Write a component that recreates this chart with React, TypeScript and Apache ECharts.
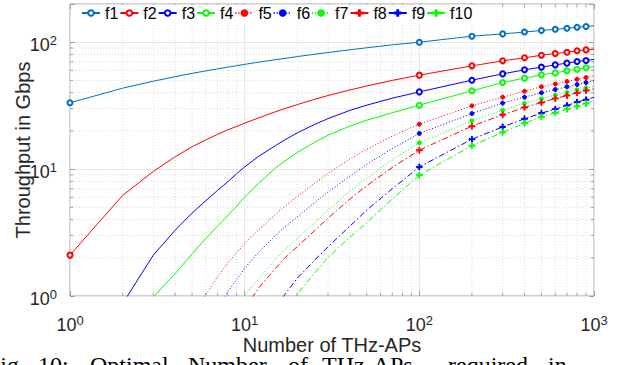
import React, { useEffect, useRef } from 'react';
import * as echarts from 'echarts';

// Sample positions (Number of THz-APs)
const X = [1, 2, 3, 4, 5, 6, 7, 8, 9, 10, 11, 12, 15, 17, 20, 25, 30, 40, 50, 70, 100, 200, 300, 400, 500, 600, 700, 800, 900, 1000];
// Points that carry a marker
const MARKER_X = [1, 100, 200, 300, 400, 500, 600, 700, 800, 900];

// Throughput in Gbps
const F1 = [33.3, 43.4, 49.3, 53.5, 56.8, 59.4, 61.7, 63.6, 65.3, 66.9, 68.3, 69.6, 72.8, 74.6, 77.0, 80.3, 82.9, 87.1, 90.4, 95.3, 100, 111.5, 116.3, 120.2, 123.6, 126.3, 128.8, 131.0, 133.0, 134.8];
const F2 = [2.1, 6.2, 9.6, 12.5, 15.0, 17.0, 18.8, 20.4, 21.7, 23.0, 24.2, 25.3, 28.3, 30.0, 32.2, 35.4, 38.0, 42.0, 45.2, 50.0, 55.0, 65.1, 71.3, 75.3, 79.0, 81.4, 83.4, 85.6, 87.0, 88.1];
const F3 = [null, 0.87, 2.1, 3.3, 4.5, 5.65, 6.8, 7.95, 9.2, 10.4, 11.5, 12.6, 15.3, 17.0, 19.3, 22.4, 25.0, 29.0, 31.9, 36.2, 40.6, 50.2, 56.3, 60.6, 63.6, 66.3, 68.4, 70.5, 71.8, 73.1];
const F4 = [null, null, 0.98, 1.5, 2.15, 2.85, 3.55, 4.3, 5.1, 6.0, 6.85, 7.7, 10.2, 11.6, 13.5, 16.2, 18.5, 21.8, 24.3, 27.8, 31.9, 41.4, 48.1, 52.1, 55.3, 57.3, 59.5, 61.3, 62.8, 64.3];
const F5 = [null, null, null, null, 0.6, 1.03, 1.42, 1.82, 2.2, 2.58, 2.95, 3.3, 4.4, 5.1, 6.05, 7.7, 9.25, 12.0, 14.3, 18.2, 22.6, 31.5, 36.9, 41.1, 44.5, 46.9, 49.0, 51.1, 52.7, 54.3];
const F6 = [null, null, null, null, null, null, 0.78, 1.08, 1.35, 1.65, 1.93, 2.2, 3.0, 3.5, 4.2, 5.4, 6.6, 8.8, 10.9, 14.5, 19.1, 27.4, 33.1, 36.9, 39.9, 42.4, 44.5, 46.4, 48.1, 49.6];
const F7 = [null, null, null, null, null, null, null, null, 0.82, 1.0, 1.18, 1.36, 1.95, 2.33, 2.85, 3.75, 4.75, 6.7, 8.45, 11.9, 16.1, 24.0, 29.2, 32.9, 35.8, 38.3, 40.2, 42.2, 43.7, 45.0];
const F8 = [null, null, null, null, null, null, null, null, null, 0.8, 0.965, 1.15, 1.65, 2.0, 2.45, 3.25, 4.1, 5.8, 7.4, 10.3, 14.1, 21.8, 26.8, 30.6, 33.5, 36.0, 38.0, 39.9, 41.6, 42.9];
const F9 = [null, null, null, null, null, null, null, null, null, null, null, null, 0.8, 1.03, 1.38, 1.9, 2.44, 3.55, 4.75, 7.0, 10.4, 17.2, 21.5, 24.9, 27.6, 29.7, 31.7, 33.7, 35.2, 36.9];
const F10 = [null, null, null, null, null, null, null, null, null, null, null, null, null, 0.74, 1.04, 1.5, 2.02, 2.9, 3.8, 5.8, 8.97, 15.3, 19.5, 23.0, 25.8, 27.8, 29.7, 31.3, 32.9, 34.5];

const NAMES = ['f1', 'f2', 'f3', 'f4', 'f5', 'f6', 'f7', 'f8', 'f9', 'f10'];
const VALUES = [F1, F2, F3, F4, F5, F6, F7, F8, F9, F10];

// Minor tick / grid positions
const X_MINOR = [2, 3, 4, 5, 6, 7, 8, 9, 20, 30, 40, 50, 60, 70, 80, 90, 200, 300, 400, 500, 600, 700, 800, 900];
const Y_MINOR = [2, 3, 4, 5, 6, 7, 8, 9, 20, 30, 40, 50, 60, 70, 80, 90];

const X_MIN = 1, X_MAX = 1000, Y_MIN = 1, Y_MAX = 200;

const FF = '"Liberation Sans", Arial, Helvetica, sans-serif';
const TXT = '#262626';
const AX = '#a0a0a0';
const PLUS = 'path://M4.2,0H5.8V4.2H10V5.8H5.8V10H4.2V5.8H0V4.2H4.2Z';

const COLORS = ['#0072BD', '#ff0000', '#0000ff', '#00ff00', '#ff0000', '#0000ff', '#00ff00', '#ff0000', '#0000ff', '#00ff00'];
const SOLID = 'solid';
const DOT = [1, 2];
const DASHDOT = [6, 2.5, 1.5, 2.5];
const LINE_TYPES: any[] = [SOLID, SOLID, SOLID, SOLID, DOT, DOT, DOT, DASHDOT, DASHDOT, DASHDOT];
const SYMBOLS = ['emptyCircle', 'emptyCircle', 'emptyCircle', 'emptyCircle', 'circle', 'circle', 'circle', PLUS, PLUS, PLUS];
const SYMBOL_SIZES = [5, 5, 5, 5, 4, 4, 4, 6, 6, 6];

const supLabel = (v: number) => {
  const e = Math.log10(v);
  const r = Math.round(e);
  if (Math.abs(e - r) > 1e-6) return '';
  return `{b|10}{s|${r}}`;
};
const RICH = {
  b: { fontSize: 18, lineHeight: 21, color: TXT, fontFamily: FF },
  s: { fontSize: 13, lineHeight: 13, verticalAlign: 'top', color: TXT, fontFamily: FF },
};

export default function App() {
  const ref = useRef<HTMLDivElement>(null);

  useEffect(() => {
    if (!ref.current) return;
    document.body.style.margin = '0';
    const chart = echarts.init(ref.current, null, { renderer: 'svg' });

    const lineSeries = NAMES.map((name, k) => {
      const data: any[] = [];
      X.forEach((x, i) => {
        const y = VALUES[k][i];
        if (y == null) return;
        if (MARKER_X.includes(x)) data.push({ value: [x, y] });
        else data.push({ value: [x, y], symbol: 'none' });
      });
      return {
        name,
        type: 'line',
        data,
        symbol: SYMBOLS[k],
        symbolSize: SYMBOL_SIZES[k],
        showSymbol: true,
        showAllSymbol: true,
        clip: true,
        z: 3,
        lineStyle: { color: COLORS[k], width: 1, type: LINE_TYPES[k] },
        itemStyle: { color: COLORS[k], borderColor: COLORS[k], borderWidth: 1 },
        emphasis: { disabled: true },
      };
    });

    const minorX = {
      type: 'custom',
      silent: true,
      clip: false,
      z: 1,
      xAxisIndex: 0,
      yAxisIndex: 0,
      data: X_MINOR.map((v) => [v, Y_MIN]),
      encode: { x: 0, y: 1 },
      renderItem: (params: any, api: any) => {
        const v = api.value(0);
        const pB = api.coord([v, Y_MIN]);
        const pT = api.coord([v, Y_MAX]);
        return {
          type: 'group',
          children: [
            { type: 'line', shape: { x1: pB[0], y1: pB[1], x2: pT[0], y2: pT[1] }, style: { stroke: '#d0d0d0', lineWidth: 0.8, lineDash: [1, 2] } },
            { type: 'line', shape: { x1: pB[0], y1: pB[1], x2: pB[0], y2: pB[1] - 3 }, style: { stroke: AX, lineWidth: 1 } },
            { type: 'line', shape: { x1: pT[0], y1: pT[1], x2: pT[0], y2: pT[1] + 3 }, style: { stroke: AX, lineWidth: 1 } },
          ],
        };
      },
    };

    const minorY = {
      type: 'custom',
      silent: true,
      clip: false,
      z: 1,
      xAxisIndex: 0,
      yAxisIndex: 0,
      data: Y_MINOR.map((v) => [X_MIN, v]),
      encode: { x: 0, y: 1 },
      renderItem: (params: any, api: any) => {
        const v = api.value(1);
        const pL = api.coord([X_MIN, v]);
        const pR = api.coord([X_MAX, v]);
        return {
          type: 'group',
          children: [
            { type: 'line', shape: { x1: pL[0], y1: pL[1], x2: pR[0], y2: pR[1] }, style: { stroke: '#d0d0d0', lineWidth: 0.8, lineDash: [1, 2] } },
            { type: 'line', shape: { x1: pL[0], y1: pL[1], x2: pL[0] + 3, y2: pL[1] }, style: { stroke: AX, lineWidth: 1 } },
            { type: 'line', shape: { x1: pR[0], y1: pR[1], x2: pR[0] - 3, y2: pR[1] }, style: { stroke: AX, lineWidth: 1 } },
          ],
        };
      },
    };

    const captionWords = [
      { t: 'Fig.', x: -13 },
      { t: '10:', x: 38 },
      { t: 'Optimal', x: 90 },
      { t: 'Number', x: 188 },
      { t: 'of', x: 288 },
      { t: 'THz-APs', x: 322 },
      { t: 'required', x: 448 },
      { t: 'in', x: 548 },
    ];

    chart.setOption({
      animation: false,
      backgroundColor: '#ffffff',
      textStyle: { fontFamily: FF },
      grid: { left: 70, right: 30, top: 4, bottom: 69, show: true, borderColor: AX, borderWidth: 1, backgroundColor: 'transparent' },
      legend: {
        data: NAMES,
        left: 76,
        top: 5,
        padding: [0, 5, 3, 5],
        itemWidth: 18,
        itemHeight: 7,
        itemGap: 1,
        backgroundColor: '#ffffff',
        textStyle: { fontFamily: FF, fontSize: 16, color: '#000' },
        selectedMode: false,
      },
      xAxis: [
        {
          type: 'log', logBase: 10, min: X_MIN, max: X_MAX, position: 'bottom',
          name: 'Number of THz-APs', nameLocation: 'middle', nameGap: 39, nameMoveOverlap: false,
          nameTextStyle: { fontSize: 20, color: TXT, fontFamily: FF },
          axisLine: { show: false },
          axisTick: { show: true, inside: true, length: 5, lineStyle: { color: AX } },
          axisLabel: { formatter: supLabel, rich: RICH, margin: 18, color: TXT },
          splitLine: { show: true, lineStyle: { color: '#e6e6e6', width: 1 } },
        },
        {
          type: 'log', logBase: 10, min: X_MIN, max: X_MAX, position: 'top',
          axisLine: { show: false },
          axisTick: { show: true, inside: true, length: 5, lineStyle: { color: AX } },
          axisLabel: { show: false },
          splitLine: { show: false },
        },
      ],
      yAxis: [
        {
          type: 'log', logBase: 10, min: Y_MIN, max: Y_MAX, position: 'left',
          name: 'Throughput in Gbps', nameLocation: 'middle', nameGap: 37, nameMoveOverlap: false,
          nameTextStyle: { fontSize: 20, color: TXT, fontFamily: FF },
          axisLine: { show: false },
          axisTick: { show: true, inside: true, length: 5, lineStyle: { color: AX } },
          axisLabel: { formatter: supLabel, rich: RICH, margin: 13, color: TXT, padding: [5, 0, 0, 0] },
          splitLine: { show: true, lineStyle: { color: '#e6e6e6', width: 1 } },
        },
        {
          type: 'log', logBase: 10, min: Y_MIN, max: Y_MAX, position: 'right',
          axisLine: { show: false },
          axisTick: { show: true, inside: true, length: 5, lineStyle: { color: AX } },
          axisLabel: { show: false },
          splitLine: { show: false },
        },
      ],
      graphic: captionWords.map((w) => ({
        type: 'text',
        x: w.x,
        y: 357,
        silent: true,
        style: { text: w.t, font: '24px "Liberation Serif", "Times New Roman", serif', lineHeight: 16, fill: '#000', verticalAlign: 'top' },
      })),
      series: [minorX, minorY, ...lineSeries],
    });

    return () => chart.dispose();
  }, []);

  return <div ref={ref} style={{ position: 'absolute', left: 0, top: 0, width: 624, height: 365 }} />;
}
